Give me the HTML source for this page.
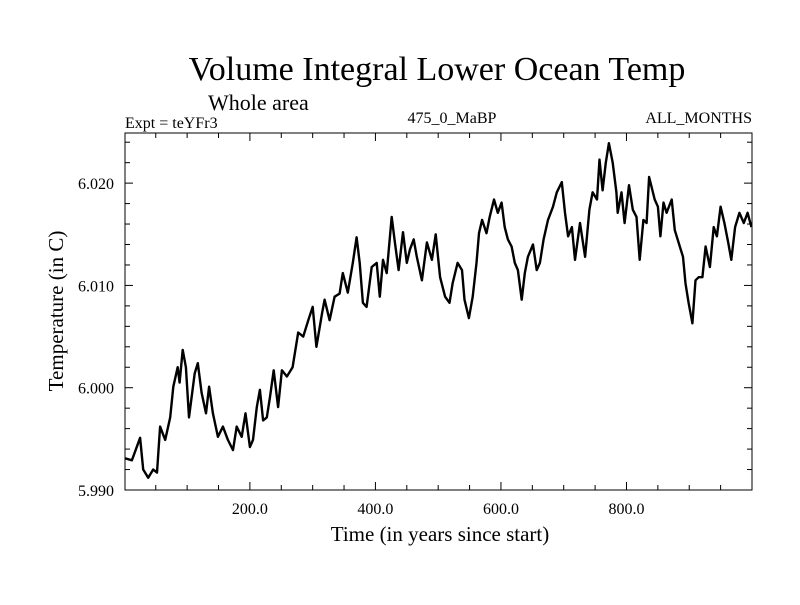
<!DOCTYPE html>
<html><head><meta charset="utf-8"><style>
body{margin:0;background:#fff;}
svg text{font-family:"Liberation Serif",serif;fill:#000;}
</style></head><body>
<svg id="chart" width="800" height="600">
<text x="437" y="80" font-size="34" text-anchor="middle">Volume Integral Lower Ocean Temp</text>
<text x="208" y="110" font-size="22">Whole area</text>
<text x="125" y="128" font-size="16">Expt = teYFr3</text>
<text x="452" y="123" font-size="16" text-anchor="middle">475_0_MaBP</text>
<text x="752" y="123" font-size="16" text-anchor="end">ALL_MONTHS</text>
<text x="440" y="541" font-size="21" text-anchor="middle">Time (in years since start)</text>
<text transform="translate(63,311) rotate(-90)" font-size="21" text-anchor="middle">Temperature (in C)</text>
<g id="axes"></g>
<path id="series" fill="none" stroke="#000" stroke-width="2.4" stroke-linejoin="round"></path>
<rect x="125" y="133" width="627" height="357" fill="none" stroke="#000" stroke-width="1"></rect>
</svg>
<script>
const years=[1,12,25,30,38,46,52,57,65,73,78,85,88,93,98,103,112,117,123,130,135,141,149,157,165,173,179,187,193,200,205,211,216,221,227,232,238,245,251,259,268,277,285,293,300,306,315,319,327,335,343,348,356,364,370,375,380,386,394,402,407,412,418,426,431,437,444,450,455,461,466,474,482,490,496,503,511,518,523,531,538,542,549,555,561,565,570,577,582,589,595,601,606,611,617,622,627,633,638,643,651,657,662,668,675,683,689,697,702,707,713,718,726,734,741,746,753,757,762,767,772,778,784,786,792,797,804,810,816,821,827,832,836,845,850,854,859,864,872,877,885,890,894,899,905,910,915,921,926,933,939,944,950,956,962,967,973,980,987,993,999];
const temps=[5.9931,5.9929,5.9951,5.9920,5.9912,5.9920,5.9917,5.9962,5.9949,5.9971,6.0001,6.0020,6.0005,6.0037,6.0020,5.9971,6.0014,6.0024,5.9995,5.9975,6.0001,5.9975,5.9952,5.9962,5.9949,5.9939,5.9962,5.9952,5.9975,5.9942,5.9949,5.9981,5.9998,5.9968,5.9971,5.9991,6.0017,5.9981,6.0017,6.0011,6.0020,6.0054,6.0050,6.0066,6.0079,6.0040,6.0073,6.0086,6.0066,6.0089,6.0092,6.0112,6.0093,6.0122,6.0147,6.0122,6.0083,6.0079,6.0118,6.0122,6.0089,6.0125,6.0112,6.0167,6.0142,6.0115,6.0152,6.0122,6.0135,6.0145,6.0128,6.0105,6.0142,6.0125,6.0150,6.0108,6.0089,6.0083,6.0102,6.0122,6.0115,6.0086,6.0068,6.0089,6.0122,6.0151,6.0164,6.0151,6.0167,6.0184,6.0171,6.0181,6.0157,6.0145,6.0138,6.0122,6.0115,6.0086,6.0112,6.0128,6.0140,6.0115,6.0122,6.0145,6.0164,6.0177,6.0191,6.0201,6.0171,6.0148,6.0157,6.0125,6.0161,6.0128,6.0174,6.0191,6.0184,6.0223,6.0193,6.0220,6.0239,6.0220,6.0191,6.0171,6.0191,6.0161,6.0198,6.0174,6.0167,6.0125,6.0164,6.0161,6.0206,6.0184,6.0177,6.0148,6.0181,6.0171,6.0184,6.0154,6.0138,6.0128,6.0102,6.0083,6.0063,6.0105,6.0108,6.0108,6.0138,6.0118,6.0157,6.0148,6.0177,6.0161,6.0142,6.0125,6.0157,6.0171,6.0161,6.0171,6.0157];
const xTickLabels=["200.0","400.0","600.0","800.0"];
const xTickValues=[200,400,600,800];
const yTickLabels=["5.990","6.000","6.010","6.020"];
const yTickValues=[5.990,6.000,6.010,6.020];

const X0=125,X1=752,Y0=490,Y1=133;
const xMin=1,xMax=1000,yMin=5.990,yMax=6.0249;
const sx=v=>X0+(v-xMin)/(xMax-xMin)*(X1-X0);
const sy=v=>Y0-(v-yMin)/(yMax-yMin)*(Y0-Y1);
const NS="http://www.w3.org/2000/svg";
const axes=document.getElementById('axes');
function line(x1,y1,x2,y2,name){
  const l=document.createElementNS(NS,'line');
  l.setAttribute('x1',x1);l.setAttribute('y1',y1);l.setAttribute('x2',x2);l.setAttribute('y2',y2);
  l.setAttribute('stroke','#000');l.setAttribute('stroke-width','1');
  
  
  axes.appendChild(l);
}
function text(x,y,s,anchor,name){
  const t=document.createElementNS(NS,'text');
  t.setAttribute('x',x);t.setAttribute('y',y);t.setAttribute('font-size','16');t.setAttribute('text-anchor',anchor);
  t.textContent=s;
  
  
  axes.appendChild(t);
}
for(let v=50;v<1000;v+=50){
  const x=sx(v), major=v%200===0, len=major?8:5;
  line(x,Y0,x,Y0-len,'x-tick');
  line(x,Y1,x,Y1+len,'x-tick-top');
}
for(let i=0;i<=17;i++){
  const v=5.990+i*0.002, y=sy(v); if(y<Y1) continue;
  const major=(i%5===0), len=major?8:5;
  line(X0,y,X0+len,y,'y-tick');
  line(X1,y,X1-len,y,'y-tick-right');
}
xTickLabels.forEach((s,i)=>text(sx(xTickValues[i]),514,s,'middle','x-tick-label'));
yTickLabels.forEach((s,i)=>text(114,sy(yTickValues[i])+6,s,'end','y-tick-label'));
let d='';
years.forEach((t,i)=>{d+=(i?'L':'M')+sx(t).toFixed(1)+','+sy(temps[i]).toFixed(1);});
document.getElementById('series').setAttribute('d',d);
</script>
</body></html>
